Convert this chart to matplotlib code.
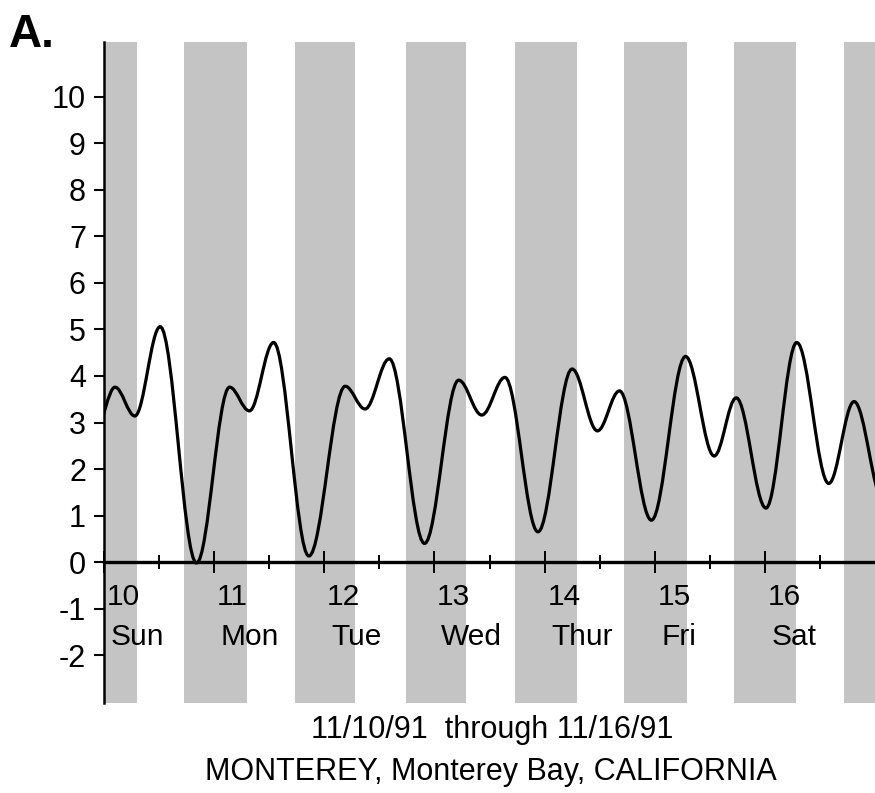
import matplotlib.pyplot as plt
from matplotlib.path import Path
from matplotlib.patches import PathPatch

plt.rcParams['font.family'] = ['Liberation Sans', 'DejaVu Sans']
plt.rcParams['axes.unicode_minus'] = False

# high / low tide times (day of month, fractional) and heights (ft)
tide_days = [9.93, 10.10, 10.28, 10.51, 10.84, 11.14, 11.32, 11.54, 11.86,
             12.19, 12.37, 12.59, 12.91, 13.22, 13.43, 13.64, 13.94, 14.25,
             14.48, 14.68, 14.97, 15.28, 15.54, 15.74, 16.01, 16.29, 16.58,
             16.81, 17.08]
tide_ft = [2.9, 3.76, 3.14, 5.06, -0.02, 3.76, 3.25, 4.72, 0.13,
           3.78, 3.29, 4.37, 0.40, 3.91, 3.16, 3.97, 0.65, 4.15,
           2.82, 3.68, 0.90, 4.42, 2.28, 3.53, 1.16, 4.72, 1.69,
           3.45, 1.3]

# night = sunset -> next sunrise
sunset = [9.72, 10.73, 11.73, 12.74, 13.73, 14.72, 15.72, 16.72]
sunrise = [10.30, 11.30, 12.28, 13.29, 14.29, 15.29, 16.28, 17.28]

day_nums = [10, 11, 12, 13, 14, 15, 16]
day_names = ['Sun', 'Mon', 'Tue', 'Wed', 'Thur', 'Fri', 'Sat']

fig = plt.figure(figsize=(8.75, 7.93), dpi=100)
ax = fig.add_axes([104/875, 1-703/793, 1-104/875, (703-42)/793])
ax.set_xlim(10, 17)
ax.set_ylim(-3.03, 11.18)

# night shading
for s, r in zip(sunset, sunrise):
    ax.axvspan(s, r, color='#c4c4c4', lw=0, zorder=0)

# smooth tide curve: bezier segments with flat tangents at each high/low
verts = [(tide_days[0], tide_ft[0])]
codes = [Path.MOVETO]
for i in range(len(tide_days) - 1):
    t0, t1 = tide_days[i], tide_days[i+1]
    h0, h1 = tide_ft[i], tide_ft[i+1]
    dt = t1 - t0
    verts += [(t0 + dt*0.36, h0), (t1 - dt*0.36, h1), (t1, h1)]
    codes += [Path.CURVE4, Path.CURVE4, Path.CURVE4]
curve = PathPatch(Path(verts, codes), fill=False, lw=2.3, edgecolor='black',
                  zorder=3, clip_on=True)
ax.add_patch(curve)

# axes styling
ax.spines['top'].set_visible(False)
ax.spines['right'].set_visible(False)
ax.spines['bottom'].set_position(('data', 0))
ax.spines['bottom'].set_linewidth(2.4)
ax.spines['left'].set_linewidth(1.8)

ax.set_yticks(range(-2, 11))
ax.tick_params(axis='y', direction='out', length=7, width=1.5,
               labelsize=22, pad=6)
ax.set_xticks(day_nums)
ax.set_xticks([d + 0.5 for d in day_nums], minor=True)
ax.tick_params(axis='x', which='major', direction='inout', length=16,
               width=1.4, labelbottom=False)
ax.tick_params(axis='x', which='minor', direction='inout', length=10,
               width=1.4)

for d, name in zip(day_nums, day_names):
    ax.text(d + 0.025, -0.75, str(d), fontsize=21.5, va='center', ha='left')
    ax.text(d + 0.06, -1.62, name, fontsize=21.5, va='center', ha='left')

fig.text(0.563, 1-730/793, '11/10/91  through 11/16/91', fontsize=22,
         ha='center', va='center')
fig.text(0.561, 1-772/793, 'MONTEREY, Monterey Bay, CALIFORNIA', fontsize=22,
         ha='center', va='center')
fig.text(9/875, 1-13/793, 'A.', fontsize=33, fontweight='bold',
         ha='left', va='top')

fig.savefig('out.png', dpi=100)
